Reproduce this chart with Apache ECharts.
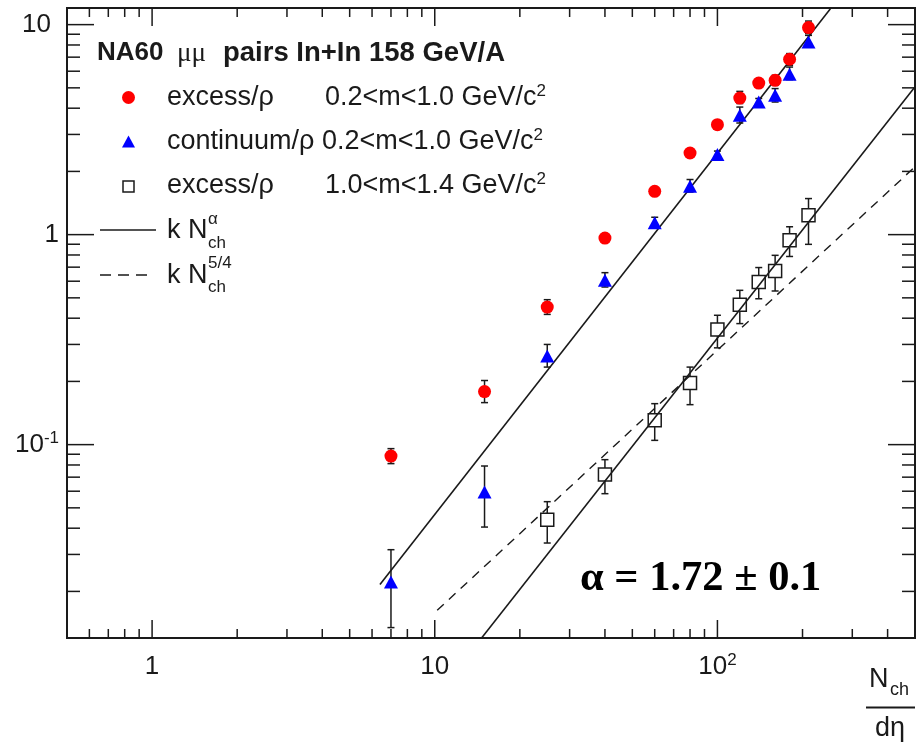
<!DOCTYPE html>
<html>
<head>
<meta charset="utf-8">
<script src="https://cdn.jsdelivr.net/npm/echarts@6/dist/echarts.min.js"></script>
<style>
  html, body { margin: 0; padding: 0; background: #ffffff; }
  #chart { width: 920px; height: 743px; }
</style>
</head>
<body>
<div id="chart"></div>
<script>
// Charged-particle multiplicity bins (dN_ch/dη)
const nch = [7, 15, 25, 40, 60, 80, 100, 120, 140, 160, 180, 210];
const nchHighMass = [25, 40, 60, 80, 100, 120, 140, 160, 180, 210];

// excess/ρ, 0.2 < m < 1.0 GeV/c²
const excessLow   = [0.0882, 0.179, 0.452, 0.963, 1.607, 2.447, 3.34, 4.47, 5.27, 5.43, 6.84, 9.68];
const excessLowHi = [0.0957, 0.202, 0.490, 1.00,  1.67,  2.54,  3.47, 4.81, 5.47, 5.74, 7.28, 10.4];
const excessLowLo = [0.0812, 0.1585, 0.417, 0.93, 1.55,  2.36,  3.22, 4.21, 5.08, 5.14, 6.40, 9.06];

// continuum/ρ, 0.2 < m < 1.0 GeV/c²
const continuum   = [0.0222, 0.0595, 0.264, 0.606, 1.14, 1.70,  2.41, 3.70, 4.28, 4.61, 5.80, 8.26];
const continuumHi = [0.0316, 0.0791, 0.300, 0.659, 1.21, 1.83,  2.50, 4.05, 4.45, 4.96, 6.28, 8.89];
const continuumLo = [0.01345, 0.0405, 0.234, 0.563, 1.08, 1.595, 2.32, 3.40, 4.12, 4.28, 5.47, 7.82];

// excess/ρ, 1.0 < m < 1.4 GeV/c²
const excessHigh   = [0.0439, 0.0720, 0.1305, 0.1965, 0.353, 0.464, 0.595, 0.671, 0.939, 1.236];
const excessHighHi = [0.0535, 0.0848, 0.1567, 0.234,  0.413, 0.543, 0.697, 0.797, 1.09,  1.485];
const excessHighLo = [0.034,  0.0584, 0.1048, 0.155,  0.289, 0.377, 0.495, 0.539, 0.787, 0.899];

// Power-law fits k·N^α (α = 1.72) and k·N^(5/4): end points
const fitAlphaLow  = [[6.4, 0.0216], [251, 11.9]];
const fitAlphaHigh = [[14.5, 0.0118], [497, 5.0]];
const fitFiveQuart = [[10.2, 0.01625], [497, 2.09]];

// Axis ranges and decade labels
const xRange = [0.5, 500];
const yRange = [0.012, 12];
const xDecades = [1, 10, 100];
const xDecadeLabels = ['{n|1}', '{n|10}', '{n|10}{s|2}'];
const yDecades = [0.1, 1, 10];
const yDecadeLabels = ['{n|10}{s|-1}', '{n|1}', '{w|10}'];

const FONT = '"Liberation Sans", Arial, Helvetica, sans-serif';
const SERIF = '"Liberation Serif", "Times New Roman", serif';
const INK = '#1a1a1a';

function decadeLabel(values, labels) {
  return function (v) {
    for (let i = 0; i < values.length; i++) {
      if (Math.abs(Math.log10(v) - Math.log10(values[i])) < 1e-6) return labels[i];
    }
    return '';
  };
}

// Minor tick positions 2..9 × 10^k inside a range
function minorTicks(range) {
  const out = [];
  for (let e = -3; e <= 3; e++) {
    for (let m = 2; m <= 9; m++) {
      const v = m * Math.pow(10, e);
      if (v > range[0] * 1.0001 && v < range[1] * 0.9999) out.push(v);
    }
  }
  return out;
}
const xMinor = minorTicks(xRange);
const yMinor = minorTicks(yRange);

// Frame ticks on all four sides
function renderTicks(params, api) {
  const s = { stroke: INK, lineWidth: 1.5 };
  const kids = [];
  const seg = (x1, y1, x2, y2) => kids.push({ type: 'line', shape: { x1, y1, x2, y2 }, style: s });
  const xs = [...xDecades.map(v => [v, 18]), ...xMinor.map(v => [v, 9])];
  xs.forEach(([v, len]) => {
    const b = api.coord([v, yRange[0]]);
    const t = api.coord([v, yRange[1]]);
    seg(b[0], b[1], b[0], b[1] - len);
    seg(t[0], t[1], t[0], t[1] + len);
  });
  const ys = [...yDecades.map(v => [v, 27]), ...yMinor.map(v => [v, 13])];
  ys.forEach(([v, len]) => {
    const l = api.coord([xRange[0], v]);
    const r = api.coord([xRange[1], v]);
    seg(l[0], l[1], l[0] + len, l[1]);
    seg(r[0], r[1], r[0] - len, r[1]);
  });
  return { type: 'group', children: kids };
}

// Vertical error bar with end caps; gap leaves the inside of an open marker empty
function errorBars(gap) {
  return function (params, api) {
    const x = api.value(0);
    const c = api.coord([x, api.value(1)]);
    const lo = api.coord([x, api.value(2)]);
    const hi = api.coord([x, api.value(3)]);
    const s = { stroke: INK, lineWidth: 1.5 };
    const kids = [];
    if (gap > 0) {
      if (hi[1] < c[1] - gap) kids.push({ type: 'line', shape: { x1: c[0], y1: hi[1], x2: c[0], y2: c[1] - gap }, style: s });
      if (lo[1] > c[1] + gap) kids.push({ type: 'line', shape: { x1: c[0], y1: c[1] + gap, x2: c[0], y2: lo[1] }, style: s });
    } else {
      kids.push({ type: 'line', shape: { x1: c[0], y1: hi[1], x2: c[0], y2: lo[1] }, style: s });
    }
    kids.push({ type: 'line', shape: { x1: c[0] - 3.5, y1: hi[1], x2: c[0] + 3.5, y2: hi[1] }, style: s });
    kids.push({ type: 'line', shape: { x1: c[0] - 3.5, y1: lo[1], x2: c[0] + 3.5, y2: lo[1] }, style: s });
    return { type: 'group', children: kids };
  };
}

const zip2 = (xs, ys) => xs.map((x, i) => [x, ys[i]]);
const zip4 = (xs, ys, lo, hi) => xs.map((x, i) => [x, ys[i], lo[i], hi[i]]);

const labelRich = {
  n: { fontFamily: FONT, fontSize: 26, color: INK, lineHeight: 30 },
  w: { fontFamily: FONT, fontSize: 26, color: INK, lineHeight: 30, padding: [0, 8, 0, 0] },
  s: { fontFamily: FONT, fontSize: 17, color: INK, verticalAlign: 'top', lineHeight: 30 }
};

const chart = echarts.init(document.getElementById('chart'), null, { renderer: 'canvas' });

const legendSmall = { font: '17px ' + FONT, fill: INK };
const supRich = {
  n: { font: '27px ' + FONT, fill: INK, lineHeight: 30 },
  s: { font: '17px ' + FONT, fill: INK, verticalAlign: 'top', lineHeight: 30 }
};
const legendText = (x, y, text, extra) => ({
  type: 'text', x, y,
  style: Object.assign({ text, font: '27px ' + FONT, fill: INK, align: 'left', verticalAlign: 'middle' }, extra || {})
});

chart.setOption({
  animation: false,
  backgroundColor: '#ffffff',
  grid: {
    left: 67, right: 5, top: 8, bottom: 105,
    show: true, borderColor: INK, borderWidth: 2, backgroundColor: 'transparent'
  },
  xAxis: {
    type: 'log', logBase: 10, min: xRange[0], max: xRange[1],
    axisLine: { show: false }, axisTick: { show: false }, splitLine: { show: false },
    axisLabel: {
      margin: 14, formatter: decadeLabel(xDecades, xDecadeLabels), rich: labelRich,
      showMinLabel: true, showMaxLabel: true
    }
  },
  yAxis: {
    type: 'log', logBase: 10, min: yRange[0], max: yRange[1],
    axisLine: { show: false }, axisTick: { show: false }, splitLine: { show: false },
    axisLabel: {
      margin: 8, formatter: decadeLabel(yDecades, yDecadeLabels), rich: labelRich,
      showMinLabel: true, showMaxLabel: true
    }
  },
  series: [
    {
      type: 'custom', name: 'ticks', silent: true, z: 1,
      data: [[1, 1]], renderItem: renderTicks
    },
    {
      type: 'line', name: 'k N^α (low mass)', data: fitAlphaLow, showSymbol: false, silent: true, z: 2,
      lineStyle: { color: INK, width: 1.6 }
    },
    {
      type: 'line', name: 'k N^α (high mass)', data: fitAlphaHigh, showSymbol: false, silent: true, z: 2,
      lineStyle: { color: INK, width: 1.6 }
    },
    {
      type: 'line', name: 'k N^5/4', data: fitFiveQuart, showSymbol: false, silent: true, z: 2,
      lineStyle: { color: INK, width: 1.4, type: [9, 7] }
    },
    {
      type: 'custom', name: 'excess low err', silent: true, z: 3,
      data: zip4(nch, excessLow, excessLowLo, excessLowHi), renderItem: errorBars(0)
    },
    {
      type: 'custom', name: 'continuum err', silent: true, z: 3,
      data: zip4(nch, continuum, continuumLo, continuumHi), renderItem: errorBars(0)
    },
    {
      type: 'custom', name: 'excess high err', silent: true, z: 3,
      data: zip4(nchHighMass, excessHigh, excessHighLo, excessHighHi), renderItem: errorBars(6.5)
    },
    {
      type: 'scatter', name: 'excess/ρ 0.2<m<1.0', data: zip2(nch, excessLow), z: 4,
      symbol: 'circle', symbolSize: 13, itemStyle: { color: '#ff0000', opacity: 1 }
    },
    {
      type: 'scatter', name: 'continuum/ρ 0.2<m<1.0', data: zip2(nch, continuum), z: 4,
      symbol: 'triangle', symbolSize: [14, 13], itemStyle: { color: '#0000ff', opacity: 1 }
    },
    {
      type: 'scatter', name: 'excess/ρ 1.0<m<1.4', data: zip2(nchHighMass, excessHigh), z: 4,
      symbol: 'rect', symbolSize: 13,
      itemStyle: { color: 'rgba(0,0,0,0)', borderColor: INK, borderWidth: 1.5, opacity: 1 }
    }
  ],
  graphic: [
    // Header
    {
      type: 'text', x: 97, y: 53,
      style: { text: 'NA60', font: 'bold 26px ' + FONT, fill: INK, align: 'left', verticalAlign: 'middle' }
    },
    {
      type: 'text', x: 177, y: 54,
      style: { text: 'μμ', font: '27px ' + SERIF, fill: INK, align: 'left', verticalAlign: 'middle' }
    },
    {
      type: 'text', x: 223, y: 53,
      style: { text: 'pairs In+In 158 GeV/A', font: 'bold 27.5px ' + FONT, fill: INK, align: 'left', verticalAlign: 'middle' }
    },
    // Legend markers
    { type: 'circle', shape: { cx: 128.5, cy: 97.5, r: 6.5 }, style: { fill: '#ff0000' } },
    { type: 'polygon', shape: { points: [[128.5, 135.5], [122, 147.5], [135, 147.5]] }, style: { fill: '#0000ff' } },
    { type: 'rect', shape: { x: 123, y: 181, width: 11, height: 11 }, style: { fill: 'none', stroke: INK, lineWidth: 1.5 } },
    { type: 'line', shape: { x1: 100, y1: 230, x2: 156, y2: 230 }, style: { stroke: INK, lineWidth: 1.6 } },
    { type: 'line', shape: { x1: 100, y1: 275, x2: 148, y2: 275 }, style: { stroke: INK, lineWidth: 1.4, lineDash: [11, 7] } },
    // Legend entries
    legendText(167, 98, 'excess/ρ'),
    legendText(325, 98, '{n|0.2<m<1.0 GeV/c}{s|2}', { rich: supRich }),
    legendText(167, 142, '{n|continuum/ρ 0.2<m<1.0 GeV/c}{s|2}', { rich: supRich }),
    legendText(167, 186, 'excess/ρ'),
    legendText(325, 186, '{n|1.0<m<1.4 GeV/c}{s|2}', { rich: supRich }),
    legendText(167, 231, 'k N'),
    { type: 'text', x: 208, y: 219, style: Object.assign({ text: 'α', align: 'left', verticalAlign: 'middle' }, legendSmall) },
    { type: 'text', x: 208, y: 243, style: Object.assign({ text: 'ch', align: 'left', verticalAlign: 'middle' }, legendSmall) },
    legendText(167, 276, 'k N'),
    { type: 'text', x: 208, y: 263, style: Object.assign({ text: '5/4', align: 'left', verticalAlign: 'middle' }, legendSmall) },
    { type: 'text', x: 208, y: 287, style: Object.assign({ text: 'ch', align: 'left', verticalAlign: 'middle' }, legendSmall) },
    // Fitted exponent
    {
      type: 'text', x: 580, y: 579,
      style: { text: 'α = 1.72 ± 0.1', font: 'bold 42.5px ' + SERIF, fill: '#000000', align: 'left', verticalAlign: 'middle' }
    },
    // Axis title N_ch / dη
    { type: 'text', x: 869, y: 680, style: { text: 'N', font: '27px ' + FONT, fill: INK, align: 'left', verticalAlign: 'middle' } },
    { type: 'text', x: 890, y: 690, style: { text: 'ch', font: '18px ' + FONT, fill: INK, align: 'left', verticalAlign: 'middle' } },
    { type: 'line', shape: { x1: 866, y1: 707.5, x2: 915, y2: 707.5 }, style: { stroke: INK, lineWidth: 2 } },
    { type: 'text', x: 890, y: 729, style: { text: 'dη', font: '27px ' + FONT, fill: INK, align: 'center', verticalAlign: 'middle' } }
  ]
});
</script>
</body>
</html>
